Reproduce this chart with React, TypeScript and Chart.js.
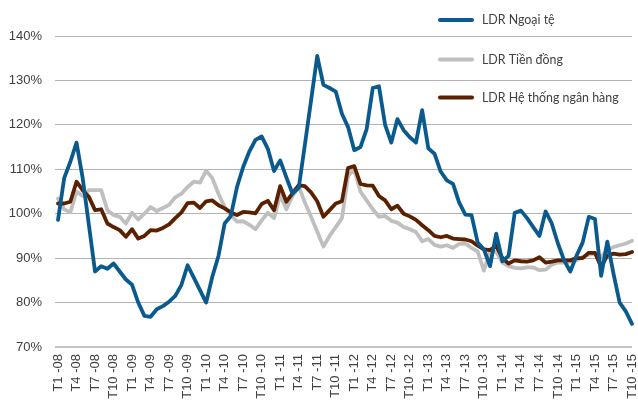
import React, { useEffect, useRef } from "react";
import { Chart, registerables } from "chart.js";

Chart.register(...registerables);

const years = ["08", "09", "10", "11", "12", "13", "14", "15"];
const monthCount = 94;

const ldrNgoaiTe = [
  98.6, 108, 111.7, 116, 108, 97.5, 87, 88.2, 87.6, 88.8, 87, 85.2,
  84, 80, 77, 76.8, 78.5, 79.2, 80.2, 81.5, 84, 88.4, 85.6, 82.8,
  80, 85.8, 90.5, 97.8, 99.5, 106, 110.5, 114, 116.6, 117.4, 114.6, 109.6,
  112, 108.2, 104.5, 105.8, 115.5, 125.5, 135.5, 129, 128.3, 127.5, 122.5, 119.5,
  114.3, 115, 119, 128.3, 128.7, 120, 116, 121.3, 118.8, 117.2, 116, 123.3,
  114.7, 113.5, 109.5, 107.5, 106.7, 102.5, 99.8, 99.7, 93.5, 92, 88.2, 95.5,
  89.3, 90.5, 100.2, 100.7, 99, 97, 95, 100.5, 97.8, 93.3, 89.5, 87,
  90.5, 93.5, 99.3, 98.8, 86, 93.7, 86.5, 80, 78, 75.2,
];

const ldrTienDong = [
  103.4, 101, 100.3, 105, 104, 105.3, 105.3, 105.3, 100.8, 99.7, 99.3, 97.8,
  100.2, 98.7, 100, 101.5, 100.6, 101.3, 102, 103.7, 104.5, 106, 107.2, 107,
  109.7, 108, 104.5, 101.5, 99.7, 98.2, 98.3, 97.5, 96.5, 98.5, 100.2, 99,
  104.2, 101, 104, 106.2, 102.5, 99.3, 96, 92.6, 95, 97, 99, 108.5,
  110, 105, 103, 101, 99.3, 99.5, 98.4, 98, 97, 96.5, 95.9, 93.8,
  94.3, 93, 92.6, 92.9, 92.3, 93.2, 93.3, 92.3, 91.5, 87.2, 91.5, 91.4,
  89, 88.2, 87.8, 87.7, 87.9, 87.9, 87.3, 87.4, 88.5, 89, 89, 89.2,
  89.5, 90.3, 90.8, 91, 90.3, 91.8, 92.5, 92.9, 93.3, 93.9,
];

const ldrHeThong = [
  102.3, 102.3, 102.7, 107.2, 105.3, 103.8, 100.8, 101, 97.8, 97, 96.3, 94.8,
  96.5, 94.4, 95, 96.3, 96.2, 96.8, 97.6, 99, 100.3, 102.4, 102.5, 101.3,
  102.8, 103, 101.9, 101.2, 100.3, 99.7, 100.4, 100.3, 100.1, 102.2, 102.9, 100.8,
  106.2, 102.7, 104.6, 106.4, 106.2, 104.8, 102.8, 99.3, 100.8, 102.3, 102.8, 110.3,
  110.7, 106.7, 106.4, 106.3, 104, 103, 101, 101.8, 100, 99.4, 98.6, 97.4,
  96.3, 95, 94.7, 95, 94.4, 94.3, 94.2, 93.8, 92.8, 92, 91.8, 92.8,
  90, 88.8, 89.5, 89.3, 89.2, 89.5, 90.2, 89, 89.2, 89.5, 89.5, 89.5,
  90, 90, 91.2, 91.2, 88, 90.6, 91, 90.8, 90.9, 91.4,
];

const seriesNames = ["LDR Ngoại tệ", "LDR Tiền đồng", "LDR Hệ thống ngân hàng"];
const seriesColors = ["#0a5a8e", "#bfbfbf", "#5a2000"];

const categories: string[] = [];
for (const y of years) {
  for (let m = 1; m <= 12; m++) {
    if (categories.length < monthCount) categories.push(`T${m} -${y}`);
  }
}

const legendPlugin = {
  id: "insideLegend",
  afterDraw(chart: any) {
    const ctx = chart.ctx;
    const rows = [20, 59.5, 97.5];
    ctx.save();
    seriesNames.forEach((name, i) => {
      const y = rows[i];
      ctx.strokeStyle = seriesColors[i];
      ctx.lineWidth = 4;
      ctx.lineCap = "round";
      ctx.beginPath();
      ctx.moveTo(440, y);
      ctx.lineTo(472, y);
      ctx.stroke();
      ctx.fillStyle = "#404040";
      ctx.font = "12.4px Lato";
      ctx.textBaseline = "middle";
      ctx.textAlign = "left";
      ctx.fillText(name, 482, y);
    });
    ctx.restore();
  },
};

export default function App() {
  const ref = useRef<HTMLCanvasElement | null>(null);
  useEffect(() => {
    if (!ref.current) return;
    const mk = (data: number[], i: number, order: number) => ({
      label: seriesNames[i],
      data,
      borderColor: seriesColors[i],
      backgroundColor: seriesColors[i],
      borderWidth: 3.8,
      pointRadius: 0,
      tension: 0,
      fill: false,
      order,
      borderJoinStyle: "round" as const,
      borderCapStyle: "round" as const,
    });
    const chart = new Chart(ref.current, {
      type: "line",
      data: {
        labels: categories,
        datasets: [mk(ldrNgoaiTe, 0, 0), mk(ldrTienDong, 1, 2), mk(ldrHeThong, 2, 1)],
      },
      options: {
        animation: false,
        responsive: true,
        maintainAspectRatio: false,
        layout: { autoPadding: false, padding: { top: 36, right: 6, left: 0, bottom: 0 } },
        plugins: { legend: { display: false }, tooltip: { enabled: false } },
        scales: {
          x: {
            type: "category",
            offset: false,
            grid: { display: false, drawTicks: false },
            border: { display: false },
            ticks: {
              autoSkip: false,
              maxRotation: 90,
              minRotation: 90,
              padding: 7,
              color: "#404040",
              font: { family: "'Liberation Sans', Arial", size: 13 },
              callback: (_v: any, i: number) => (i % 3 === 0 ? categories[i] : ""),
            },
            afterFit: (s: any) => {
              s.height = 58;
              s.paddingLeft = 0;
              s.paddingRight = 0;
            },
          },
          y: {
            min: 70,
            max: 140,
            border: { display: false },
            grid: {
              color: (c: any) => (c.tick && c.tick.value === 70 ? "#c4c4c4" : "#b4b4b4"),
              lineWidth: (c: any) => (c.tick && c.tick.value === 70 ? 2 : 1),
              tickLength: 3,
            },
            ticks: {
              stepSize: 10,
              padding: 13,
              color: "#404040",
              font: { family: "'Liberation Sans', Arial", size: 13 },
              callback: (v: any) => `${v}%`,
            },
            afterFit: (s: any) => {
              s.width = 58;
            },
          },
        },
      },
      plugins: [legendPlugin],
    });
    return () => chart.destroy();
  }, []);
  return (
    <div style={{ position: "fixed", left: 0, top: 0, width: 638, height: 405, background: "#fff" }}>
      <canvas ref={ref} />
    </div>
  );
}
